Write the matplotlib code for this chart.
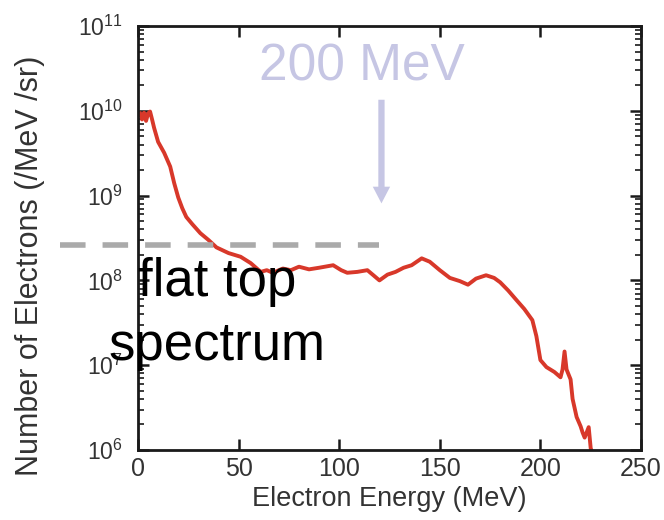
import numpy as np
import matplotlib
matplotlib.use('Agg')
import matplotlib.pyplot as plt

# Spectrum (energy in MeV, electrons /MeV /sr)
energy = [1, 2, 3, 4, 5, 6, 7, 8, 10, 13, 16, 18, 20, 22, 24, 27, 31, 35, 39,
          45, 51, 56, 61, 64, 67, 72, 76, 80, 85, 90, 97, 101, 104, 109, 114,
          117, 120, 124, 128, 132, 136, 141, 145, 150, 155, 160, 164, 168, 173,
          177, 180, 184, 188, 192, 196, 198, 200, 203, 207, 210, 211, 212, 213,
          215, 216, 218, 220, 221, 222, 224, 225, 226]
electrons = [9.3e9, 7.9e9, 9.5e9, 7.6e9, 9.3e9, 9.8e9, 7.9e9, 6.3e9, 4.3e9,
             3.2e9, 2.2e9, 1.4e9, 9.5e8, 7.1e8, 5.6e8, 4.6e8, 3.6e8, 3.0e8,
             2.45e8, 2.1e8, 1.9e8, 1.6e8, 1.26e8, 1.32e8, 1.23e8, 1.38e8,
             1.32e8, 1.45e8, 1.35e8, 1.41e8, 1.51e8, 1.32e8, 1.23e8, 1.26e8,
             1.32e8, 1.15e8, 1.0e8, 1.17e8, 1.26e8, 1.41e8, 1.51e8, 1.82e8,
             1.66e8, 1.32e8, 1.07e8, 9.8e7, 8.9e7, 1.05e8, 1.15e8, 1.07e8,
             9.5e7, 7.6e7, 5.9e7, 4.6e7, 3.4e7, 2.2e7, 1.15e7, 9.5e6, 8.3e6,
             7.2e6, 8.9e6, 1.45e7, 8.9e6, 6.8e6, 4.0e6, 2.45e6, 1.9e6, 1.6e6,
             1.4e6, 1.86e6, 1.05e6, 8.9e5]

xticks = [0, 50, 100, 150, 200, 250]

# annotation anchors (data units)
flat_level = 2.6e8
flat_x = [-39, 120]
arrow_x = 121
arrow_tail = 1.35e10
arrow_tip = 8.1e8
label_200 = (111.5, 2.3e10)
label_flat = (39.5, 1.15e7)   # baseline of the last line

plt.rcParams['font.family'] = ['Liberation Sans', 'DejaVu Sans']
plt.rcParams['mathtext.fontset'] = 'custom'
plt.rcParams['mathtext.rm'] = 'Liberation Sans'
plt.rcParams['mathtext.default'] = 'regular'

fig = plt.figure(figsize=(6.64, 5.2), dpi=100)
ax = fig.add_axes([138 / 664, 70 / 520, 503 / 664, 424 / 520])

ax.plot(energy, electrons, color='#d8382a', lw=2.8, zorder=2)

ax.set_yscale('log')
ax.set_xlim(0, 250)
ax.set_ylim(1e6, 1e11)
ax.set_xticks(xticks)

for s in ax.spines.values():
    s.set_linewidth(2)
    s.set_color('#1a1a1a')

ax.tick_params(which='both', direction='in', top=True, right=True,
               color='#1a1a1a')
ax.tick_params(which='major', length=8, width=1.8)
ax.tick_params(which='minor', length=4, width=1.2)
ax.tick_params(axis='x', labelsize=18, pad=5, labelcolor='#333333')
ax.tick_params(axis='y', labelsize=16.5, pad=11, labelcolor='#333333')
ax.tick_params(axis='x', which='minor', bottom=False, top=False)

ax.set_xlabel('Electron Energy (MeV)', fontsize=19.5, color='#333333', va='top')
ax.xaxis.set_label_coords(0.5, -0.085)
ax.set_ylabel('Number of Electrons (/MeV /sr)', fontsize=22, color='#333333')
ax.yaxis.set_label_coords(-0.185, 0.434)

# dashed level line, running out past the left spine
ax.plot(flat_x, [flat_level, flat_level], color='#aaaaaa', lw=4,
        ls=(0, (4.6, 3.06)), clip_on=False, zorder=3)

ax.annotate('', xy=(arrow_x, arrow_tip), xytext=(arrow_x, arrow_tail),
            arrowprops=dict(arrowstyle='simple,head_length=1.2,head_width=1.25,tail_width=0.45',
                            color='#c6c6e4', lw=0, shrinkA=0, shrinkB=0,
                            mutation_scale=10))

ax.text(label_200[0], label_200[1], '200 MeV', fontsize=37, color='#c6c6e4',
        ha='center', va='baseline', zorder=5)
ax.text(label_flat[0], label_flat[1], 'flat top\nspectrum', fontsize=38,
        color='black', ha='center', va='baseline', multialignment='center',
        linespacing=1.37, zorder=5)

fig.savefig('out.png', dpi=100)
